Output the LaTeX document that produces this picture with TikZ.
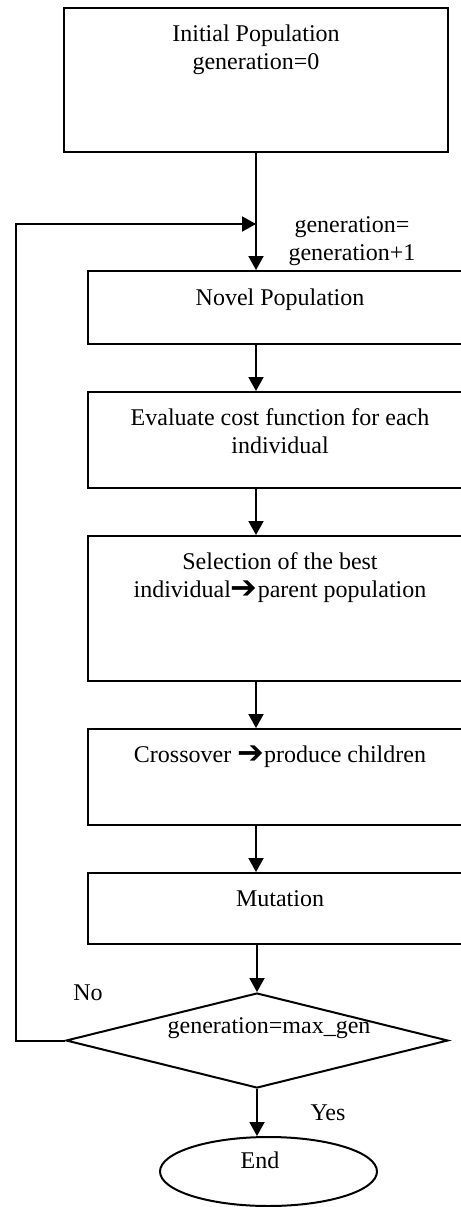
\documentclass[tikz,border=0pt]{standalone}
\usepackage{fontspec}
\setmainfont{Liberation Serif}
\newfontfamily\arrowfont{DejaVu Sans}
\newcommand{\bigarrow}{{\arrowfont\fontsize{16}{14}\selectfont\raisebox{-0.5pt}{➔}}}
\usetikzlibrary{shapes.geometric,arrows.meta}
\begin{document}
\begin{tikzpicture}[x=0.5pt,y=-0.5pt, font=\fontsize{12}{14}\selectfont, line width=1pt,
 box/.style={draw, rectangle, minimum width=192pt, inner sep=0pt},
 txt/.style={inner sep=0pt, align=center, anchor=base},
 arr/.style={-{Triangle[length=7pt,width=7.5pt]}}]
\useasboundingbox (0,0) rectangle (461,1207);
\node[box, minimum height=72pt] (init) at (256,80) {};
\node[txt] (initT) at (256,69) {Initial Population\\generation=0};
\node[box, minimum height=36.5pt] (novel) at (280,307.5) {};
\node[txt] (novelT) at (280,305) {Novel Population};
\node[box, minimum height=48pt] (eval) at (280,440) {};
\node[txt] (evalT) at (280,453) {Evaluate cost function for each\\individual};
\node[box, minimum height=72.5pt] (sel) at (280,608.5) {};
\node[txt] (selT) at (280,597) {Selection of the best\\individual\bigarrow parent population};
\node[box, minimum height=48pt] (cross) at (280,777) {};
\node[txt] (crossT) at (280,762) {Crossover \bigarrow produce children};
\node[box, minimum height=35.5pt] (mut) at (280,908.5) {};
\node[txt] (mutT) at (280,906) {Mutation};
\node[draw, diamond, minimum width=191pt, minimum height=47.5pt, inner sep=0pt] (dia) at (257,1040.5) {};
\node[txt] (diaT) at (269,1033) {generation=max\_gen};
\node[draw, ellipse, minimum width=108.5pt, minimum height=34.5pt, inner sep=0pt] (end) at (268.5,1171.5) {};
\node[txt] (endT) at (260,1168) {End};
\node[txt] (no) at (88,1000) {No};
\node[txt] (yes) at (328,1120) {Yes};
\node[txt] (genT) at (352,260) {generation=\\generation+1};
\coordinate (join) at (256,224);
\coordinate (corner) at (16,224);
\draw[arr] (init.south) -- (init.south |- novel.north);
\draw[arr] (dia.west) -| (corner) -- (join);
\draw[arr] (novel.south -| init.south) -- (eval.north -| init.south);
\draw[arr] (eval.south -| init.south) -- (sel.north -| init.south);
\draw[arr] (sel.south -| init.south) -- (cross.north -| init.south);
\draw[arr] (cross.south -| init.south) -- (mut.north -| init.south);
\draw[arr] (mut.south -| dia.north) -- (dia.north);
\draw[arr] (dia.south) -- (dia.south |- end.north);
\end{tikzpicture}
\end{document}
